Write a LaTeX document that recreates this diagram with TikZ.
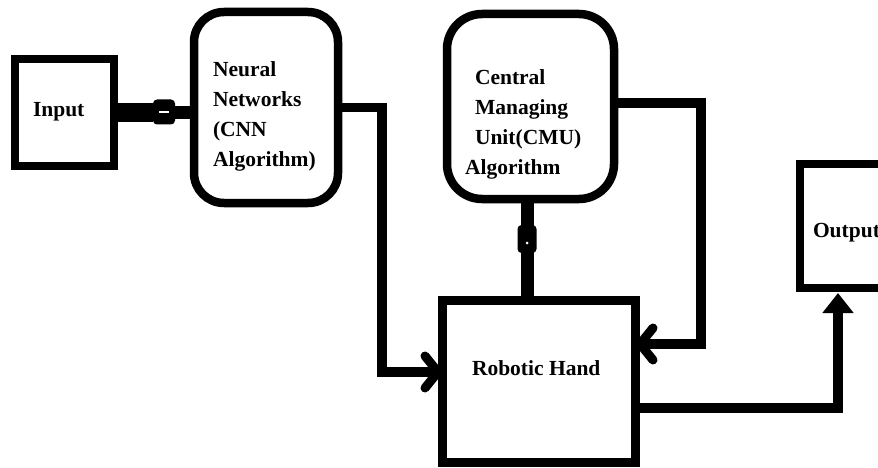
\documentclass[tikz,border=0pt]{standalone}
\usepackage{fontspec}
\setmainfont{Liberation Serif}
\usetikzlibrary{arrows.meta}
\begin{document}
\begin{tikzpicture}[x=1pt,y=-1pt,
  box/.style={draw=black,line width=8.5pt,inner sep=0pt,outer sep=0pt,fill=white},
  rbox/.style={box,rounded corners=#1},
  lbl/.style={font=\fontsize{21.5}{30}\selectfont\bfseries,inner sep=0pt,outer sep=0pt,anchor=base west,align=left},
  conn/.style={line width=9.5pt},
  barb/.style={-{Straight Barb[length=13pt,width=32pt,line width=9pt,round]}},
  tri/.style={-{Triangle[length=20pt,width=30pt]}},
  bump/.style={fill=black,rounded corners=4pt,inner sep=0pt,outer sep=0pt}]
\clip (0,0) rectangle (878,468);
\fill[white] (0,0) rectangle (878,468);
\coordinate (k1) at (382,372);
\coordinate (k2) at (701,344);
\coordinate (k3) at (838,408);
% boxes
\node[box,minimum width=99pt,minimum height=107pt] (in) at (64.5,112.5) {};
\node[rbox=30pt,minimum width=144pt,minimum height=191pt] (nn) at (266,107.5) {};
\node[rbox=35pt,minimum width=167pt,minimum height=185pt] (cmu) at (530.5,106.5) {};
\node[box,minimum width=193pt,minimum height=162pt] (rh) at (539,381.5) {};
\node[box,minimum width=130pt,minimum height=124pt] (out) at (865,226) {};
% Input -> NN
\draw[line width=13pt] (in.east) -- (in.east -| nn.west);
\draw[line width=19pt] (in.east) -- ++(39,0) coordinate (b1);
\node[bump,minimum width=22pt,minimum height=25pt] (bp1) at (164,112) {};
\draw[white,line width=2pt] (bp1.center) ++(-5,0) -- ++(10,0);
% CMU -> RH
\draw[conn,line width=13pt] ([xshift=-3.5pt]cmu.south) -- ([xshift=-3.5pt]cmu.south |- rh.north);
\node[bump,minimum width=19pt,minimum height=28pt] (bp2) at (527,239) {};
\fill[white] (bp2.center) ++(0,4) circle (1.5pt);
% NN -> RH
\draw[conn,barb] (nn.east) -| (k1) -- (k1 -| rh.west);
% CMU -> RH (right side)
\draw[conn,barb] ([yshift=3.5pt]cmu.east) -| (k2) -- (k2 -| rh.east);
% RH -> Output
\draw[conn,tri] (k3 -| rh.east) -- (k3) -- ([yshift=-5pt]k3 |- out.south);
% labels
\node[lbl] (tin) at (33,117) {Input};
\node[lbl] (tnn) at (213,167) {Neural\\Networks\\(CNN\\Algorithm)};
\node[lbl] (tcmu) at (465,175) {\hspace*{10pt}Central\\\hspace*{10pt}Managing\\\hspace*{10pt}Unit(CMU)\\Algorithm};
\node[lbl] (trh) at (472,375) {Robotic Hand};
\node[lbl] (tout) at (813,237) {Output};
\end{tikzpicture}
\end{document}
